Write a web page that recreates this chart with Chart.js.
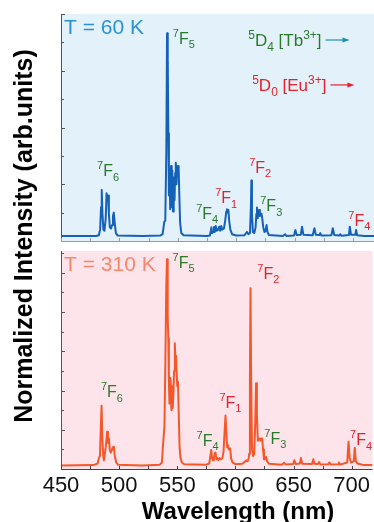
<!DOCTYPE html>
<html>
<head>
<meta charset="utf-8">
<script src="https://cdn.jsdelivr.net/npm/chart.js@4.4.0/dist/chart.umd.min.js"></script>
<style>
  html, body { margin: 0; padding: 0; background: #ffffff; }
  #wrap { position: relative; width: 374px; height: 522px; overflow: hidden; }
  #wrap canvas { position: absolute; left: 0; top: 0; }
</style>
</head>
<body>
<div id="wrap">
  <canvas id="spec310" width="374" height="522"></canvas>
  <canvas id="spec60" width="374" height="522"></canvas>
</div>
<script>
// ---- Emission spectra (wavelength in nm, normalized intensity) ----
const wavelength60 = [
  450, 480, 482.4, 483.5, 484.3, 484.9, 485.5, 486.3, 487.2, 488.3, 489.0, 489.7, 490.3, 491.0, 491.8, 492.8, 493.7, 494.5, 495.2, 496.0, 497.0, 498.5,
  520, 535, 537.0, 537.8, 538.5, 539.3, 540.2, 540.8, 541.4, 541.9, 542.4, 543.0, 543.5, 544.2, 544.8, 545.3, 545.9, 546.5, 547.2, 547.8, 548.3, 548.9, 549.5, 550.2, 550.7, 551.3, 552.0, 553.0, 555,
  575, 577.5, 578.3, 578.8, 579.4, 580.3, 581.0, 581.7, 582.5, 583.3, 584.5, 585.5, 586.3, 587.2, 588.0, 589.5, 590.6, 591.5, 592.1, 592.7, 593.3, 594.0, 595.0, 596.5, 600,
  607, 609.3, 610.5, 611.8, 612.6, 613.0, 613.5, 614.3, 615.5, 616.6, 617.3, 617.8, 618.4, 619.0, 619.6, 620.3, 621.0, 621.7, 622.3, 623.2, 624.2, 625.2, 626.0, 626.8, 628,
  640, 642.0, 643.0, 649.5, 650.7, 651.8, 655.3, 656.4, 657.5, 665.5, 667.0, 668.2, 671.2, 672.0, 673.0, 681.5, 682.7, 684.0, 688.3, 689.0, 690,
  696.5, 697.3, 698.3, 702.0, 702.7, 703.6, 710, 718
];
const intensity60 = [
  0.022, 0.022, 0.025, 0.05, 0.15, 0.225, 0.12, 0.05, 0.045, 0.1, 0.21, 0.19, 0.2, 0.12, 0.06, 0.055, 0.07, 0.11, 0.125, 0.08, 0.035, 0.024,
  0.022, 0.024, 0.03, 0.06, 0.085, 0.09, 0.4, 0.915, 0.8, 0.475, 0.2, 0.3, 0.14, 0.33, 0.15, 0.31, 0.13, 0.28, 0.18, 0.3, 0.345, 0.25, 0.33, 0.3, 0.33, 0.2, 0.08, 0.035, 0.025,
  0.022, 0.024, 0.045, 0.06, 0.035, 0.04, 0.062, 0.04, 0.066, 0.045, 0.05, 0.063, 0.045, 0.066, 0.05, 0.055, 0.09, 0.13, 0.14, 0.125, 0.137, 0.09, 0.05, 0.03, 0.024,
  0.025, 0.04, 0.03, 0.035, 0.15, 0.266, 0.12, 0.04, 0.035, 0.06, 0.12, 0.148, 0.1, 0.12, 0.137, 0.11, 0.12, 0.12, 0.1, 0.06, 0.04, 0.045, 0.07, 0.04, 0.026,
  0.022, 0.03, 0.022, 0.024, 0.048, 0.026, 0.028, 0.063, 0.028, 0.025, 0.056, 0.027, 0.026, 0.035, 0.024, 0.025, 0.056, 0.026, 0.024, 0.03, 0.023,
  0.026, 0.063, 0.028, 0.027, 0.049, 0.025, 0.022, 0.022
];

const wavelength310 = [
  450, 478, 481.5, 482.6, 483.5, 484.3, 484.9, 485.5, 486.3, 486.9, 487.7, 488.5, 489.2, 489.7, 490.4, 491.2, 491.9, 492.8, 493.6, 494.4, 495.0, 495.5, 496.3, 497.5, 499,
  520, 535, 536.8, 537.6, 538.3, 539.0, 539.8, 540.6, 541.2, 541.8, 542.3, 542.8, 543.3, 543.7, 544.2, 544.7, 545.1, 545.6, 546.1, 546.7, 547.3, 547.9, 548.4, 548.9, 549.4, 550.0, 550.6, 551.3, 552.0, 552.8, 554, 556,
  575, 577.5, 578.5, 579.2, 579.9, 580.8, 581.5, 582.2, 582.9, 583.7, 584.5, 585.3, 586.3, 587.5, 588.8, 589.8, 590.7, 591.5, 592.2, 592.9, 593.5, 594.2, 595.5, 596.3, 597.5, 600,
  606, 608.5, 609.3, 610.3, 611.3, 611.9, 612.5, 613.0, 613.6, 614.3, 615.2, 616.2, 617.0, 617.8, 618.5, 619.3, 620.0, 620.7, 621.5, 622.3, 623.0, 623.8, 624.6, 625.5, 626.4, 627.3, 629,
  640, 642, 643.5, 649.7, 650.7, 651.8, 655.5, 656.4, 657.5, 666, 667, 668, 671, 672, 673, 680, 680.7, 682, 688.3, 689, 690,
  696.2, 697.3, 698.3, 699.5, 701.8, 702.7, 703.6, 705, 710, 718
];
const intensity310 = [
  0.016, 0.018, 0.025, 0.05, 0.06, 0.2, 0.29, 0.15, 0.06, 0.04, 0.07, 0.1, 0.14, 0.171, 0.12, 0.14, 0.09, 0.075, 0.085, 0.1, 0.09, 0.102, 0.06, 0.03, 0.02,
  0.016, 0.02, 0.03, 0.1, 0.148, 0.2, 0.5, 0.85, 0.962, 0.7, 0.6, 0.4, 0.3, 0.35, 0.417, 0.3, 0.27, 0.38, 0.28, 0.35, 0.45, 0.577, 0.5, 0.52, 0.45, 0.38, 0.4, 0.25, 0.1, 0.05, 0.03, 0.022,
  0.02, 0.025, 0.06, 0.087, 0.05, 0.04, 0.05, 0.072, 0.075, 0.045, 0.05, 0.04, 0.05, 0.045, 0.05, 0.08, 0.17, 0.245, 0.17, 0.1, 0.11, 0.09, 0.095, 0.05, 0.03, 0.022,
  0.024, 0.035, 0.04, 0.035, 0.045, 0.07, 0.4, 0.829, 0.4, 0.09, 0.06, 0.07, 0.2, 0.393, 0.25, 0.13, 0.14, 0.14, 0.13, 0.14, 0.14, 0.09, 0.045, 0.045, 0.056, 0.035, 0.024,
  0.02, 0.028, 0.021, 0.023, 0.04, 0.023, 0.025, 0.05, 0.024, 0.023, 0.045, 0.024, 0.023, 0.032, 0.021, 0.022, 0.03, 0.021, 0.022, 0.03, 0.02,
  0.03, 0.125, 0.05, 0.03, 0.035, 0.098, 0.035, 0.025, 0.018, 0.018
];

// ---- Axis ticks ----
const xTickValues = [450, 475, 500, 525, 550, 575, 600, 625, 650, 675, 700];
const xTickLabels = ['450', '', '500', '', '550', '', '600', '', '650', '', '700'];
const yTicks60 = [0, 0.125, 0.25, 0.375, 0.5, 0.625, 0.75, 0.875, 1];
const yTicks310 = [0, 0.09, 0.18, 0.27, 0.36, 0.45, 0.54, 0.63, 0.72, 0.81, 0.9, 0.99];

const X_MIN = 450, X_MAX = 718;

// ---- Colours ----
const TB_GREEN = '#2a7a2e';
const EU_RED = '#e5222b';
const FONT = '"Liberation Sans", Arial, Helvetica, sans-serif';

// ---- Transition labels (placed in data coordinates of each panel) ----
const labels60 = [
  { text: 'T = 60 K', x: 452.6, y: 0.912, color: '#2993d6', size: 21 },
  { text: '^{7}F_{5}', x: 545.7, y: 0.868, color: TB_GREEN, size: 16 },
  { text: '^{7}F_{6}', x: 480.9, y: 0.286, color: TB_GREEN, size: 16 },
  { text: '^{7}F_{4}', x: 565.7, y: 0.097, color: TB_GREEN, size: 16 },
  { text: '^{7}F_{1}', x: 582.0, y: 0.167, color: EU_RED, size: 16 },
  { text: '^{7}F_{2}', x: 611.1, y: 0.300, color: EU_RED, size: 16 },
  { text: '^{7}F_{3}', x: 620.6, y: 0.132, color: TB_GREEN, size: 16 },
  { text: '^{7}F_{4}', x: 696.0, y: 0.066, color: EU_RED, size: 16 },
  { text: '^{5}D_{4} [Tb^{3+}]', x: 610.3, y: 0.859, color: TB_GREEN, size: 17, arrow: '#1b8db3' },
  { text: '^{5}D_{0} [Eu^{3+}]', x: 613.7, y: 0.661, color: EU_RED, size: 17, arrow: EU_RED }
];
const labels310 = [
  { text: 'T = 310 K', x: 452.6, y: 0.908, color: '#f8876c', size: 21 },
  { text: '^{7}F_{5}', x: 546.0, y: 0.922, color: TB_GREEN, size: 16 },
  { text: '^{7}F_{2}', x: 618.9, y: 0.872, color: EU_RED, size: 16 },
  { text: '^{7}F_{6}', x: 484.3, y: 0.330, color: TB_GREEN, size: 16 },
  { text: '^{7}F_{1}', x: 586.3, y: 0.280, color: EU_RED, size: 16 },
  { text: '^{7}F_{4}', x: 566.6, y: 0.106, color: TB_GREEN, size: 16 },
  { text: '^{7}F_{3}', x: 624.9, y: 0.115, color: TB_GREEN, size: 16 },
  { text: '^{7}F_{4}', x: 698.6, y: 0.110, color: EU_RED, size: 16 }
];

function toPoints(xs, ys) {
  return xs.map((x, i) => ({ x: x, y: ys[i] }));
}

// Split "^{7}F_{5}" style strings into normal / superscript / subscript runs
function parseRich(str) {
  const out = [];
  const re = /\^\{([^}]*)\}|_\{([^}]*)\}|([^\^_]+)/g;
  let m;
  while ((m = re.exec(str)) !== null) {
    if (m[1] !== undefined) out.push({ t: m[1], k: 'sup' });
    else if (m[2] !== undefined) out.push({ t: m[2], k: 'sub' });
    else out.push({ t: m[3], k: '' });
  }
  return out;
}

function drawRich(ctx, x, y, str, color, size) {
  const small = Math.round(size * 0.7);
  ctx.fillStyle = color;
  ctx.textAlign = 'left';
  ctx.textBaseline = 'alphabetic';
  let cx = x;
  for (const s of parseRich(str)) {
    let fs = size, dy = 0;
    if (s.k === 'sup') { fs = small; dy = -size * 0.42; }
    else if (s.k === 'sub') { fs = small; dy = size * 0.28; }
    ctx.font = fs + 'px ' + FONT;
    ctx.fillText(s.t, cx, y + dy);
    cx += ctx.measureText(s.t).width;
  }
  return cx;
}

function drawArrow(ctx, x1, x2, y, color) {
  ctx.save();
  ctx.strokeStyle = color;
  ctx.fillStyle = color;
  ctx.lineWidth = 1.2;
  ctx.beginPath();
  ctx.moveTo(x1, y);
  ctx.lineTo(x2 - 5, y);
  ctx.stroke();
  ctx.beginPath();
  ctx.moveTo(x2, y);
  ctx.lineTo(x2 - 7, y - 2.5);
  ctx.lineTo(x2 - 7, y + 2.5);
  ctx.closePath();
  ctx.fill();
  ctx.restore();
}

// Panel background, inward axis ticks and transition labels
function panelPlugin(opts) {
  return {
    id: 'panel_' + opts.name,
    beforeDatasetsDraw(chart) {
      const a = chart.chartArea, ctx = chart.ctx;
      ctx.save();
      ctx.fillStyle = opts.background;
      ctx.fillRect(a.left, a.top, a.right - a.left, a.bottom - a.top);
      ctx.restore();
    },
    afterDraw(chart) {
      const a = chart.chartArea, ctx = chart.ctx;
      const xs = chart.scales.x, ys = chart.scales.y;
      ctx.save();
      // y axis with inward ticks
      ctx.strokeStyle = '#555555';
      ctx.lineWidth = 1;
      ctx.beginPath();
      ctx.moveTo(a.left + 0.5, a.top);
      ctx.lineTo(a.left + 0.5, a.bottom + 0.5);
      opts.yTicks.forEach((v, i) => {
        const py = Math.round(ys.getPixelForValue(v)) + 0.5;
        const len = (i % 2 === 0) ? 4 : 3;
        ctx.moveTo(a.left, py);
        ctx.lineTo(a.left + len, py);
      });
      ctx.stroke();
      // x axis with inward ticks
      ctx.strokeStyle = opts.xAxisColor;
      ctx.beginPath();
      ctx.moveTo(a.left, a.bottom + 0.5);
      ctx.lineTo(a.right, a.bottom + 0.5);
      xTickValues.forEach(v => {
        const px = Math.round(xs.getPixelForValue(v)) + 0.5;
        ctx.moveTo(px, a.bottom);
        ctx.lineTo(px, a.bottom - 3);
      });
      ctx.stroke();
      ctx.restore();

      ctx.save();
      opts.labels.forEach(l => {
        const px = xs.getPixelForValue(l.x);
        const py = ys.getPixelForValue(l.y);
        const end = drawRich(ctx, px, py, l.text, l.color, l.size);
        if (l.arrow) drawArrow(ctx, end + 4, end + 28, py - 6, l.arrow);
      });
      ctx.restore();

      if (opts.titles) {
        ctx.save();
        ctx.fillStyle = '#000000';
        ctx.font = 'bold 24px ' + FONT;
        ctx.textAlign = 'center';
        ctx.textBaseline = 'alphabetic';
        ctx.fillText('Wavelength (nm)', 238, 519);
        ctx.translate(32, 236);
        ctx.rotate(-Math.PI / 2);
        ctx.font = 'bold 25px ' + FONT;
        ctx.fillText('Normalized Intensity (arb.units)', 0, 0);
        ctx.restore();
      }
    }
  };
}

Chart.defaults.font.family = FONT;

const H = 522;

// 60 K spectrum (upper panel)
new Chart(document.getElementById('spec60'), {
  type: 'line',
  data: {
    datasets: [{
      data: toPoints(wavelength60, intensity60),
      borderColor: '#1561b8',
      borderWidth: 2,
      borderJoinStyle: 'round',
      pointRadius: 0,
      tension: 0,
      fill: false
    }]
  },
  options: {
    responsive: false,
    animation: false,
    devicePixelRatio: 1,
    layout: { padding: { left: 61, right: 0, top: 14, bottom: H - 241 } },
    plugins: { legend: { display: false }, tooltip: { enabled: false } },
    scales: {
      x: { type: 'linear', min: X_MIN, max: X_MAX, display: false },
      y: { type: 'linear', min: 0, max: 1, display: false }
    }
  },
  plugins: [panelPlugin({
    name: 'k60', background: '#e3f1fb', yTicks: yTicks60, labels: labels60, xAxisColor: '#9a9a9a', titles: false
  })]
});

// 310 K spectrum (lower panel, carries the wavelength axis)
new Chart(document.getElementById('spec310'), {
  type: 'line',
  data: {
    datasets: [{
      data: toPoints(wavelength310, intensity310),
      borderColor: '#f4572a',
      borderWidth: 2,
      borderJoinStyle: 'round',
      pointRadius: 0,
      tension: 0,
      fill: false
    }]
  },
  options: {
    responsive: false,
    animation: false,
    devicePixelRatio: 1,
    layout: { padding: { left: 61, right: 0, top: 251, bottom: 0 } },
    plugins: { legend: { display: false }, tooltip: { enabled: false } },
    scales: {
      x: {
        type: 'linear', min: X_MIN, max: X_MAX,
        afterBuildTicks: s => { s.ticks = xTickValues.map(v => ({ value: v })); },
        afterFit: s => { s.height = H - 469; },
        grid: { display: false, drawTicks: false },
        border: { display: false },
        ticks: {
          autoSkip: false, maxRotation: 0, padding: 4, color: '#111111',
          font: { size: 22 },
          callback: (v, i) => xTickLabels[i]
        }
      },
      y: { type: 'linear', min: 0, max: 1, display: false }
    }
  },
  plugins: [panelPlugin({
    name: 'k310', background: '#fde4eb', yTicks: yTicks310, labels: labels310, xAxisColor: '#444444', titles: true
  })]
});
</script>
</body>
</html>
